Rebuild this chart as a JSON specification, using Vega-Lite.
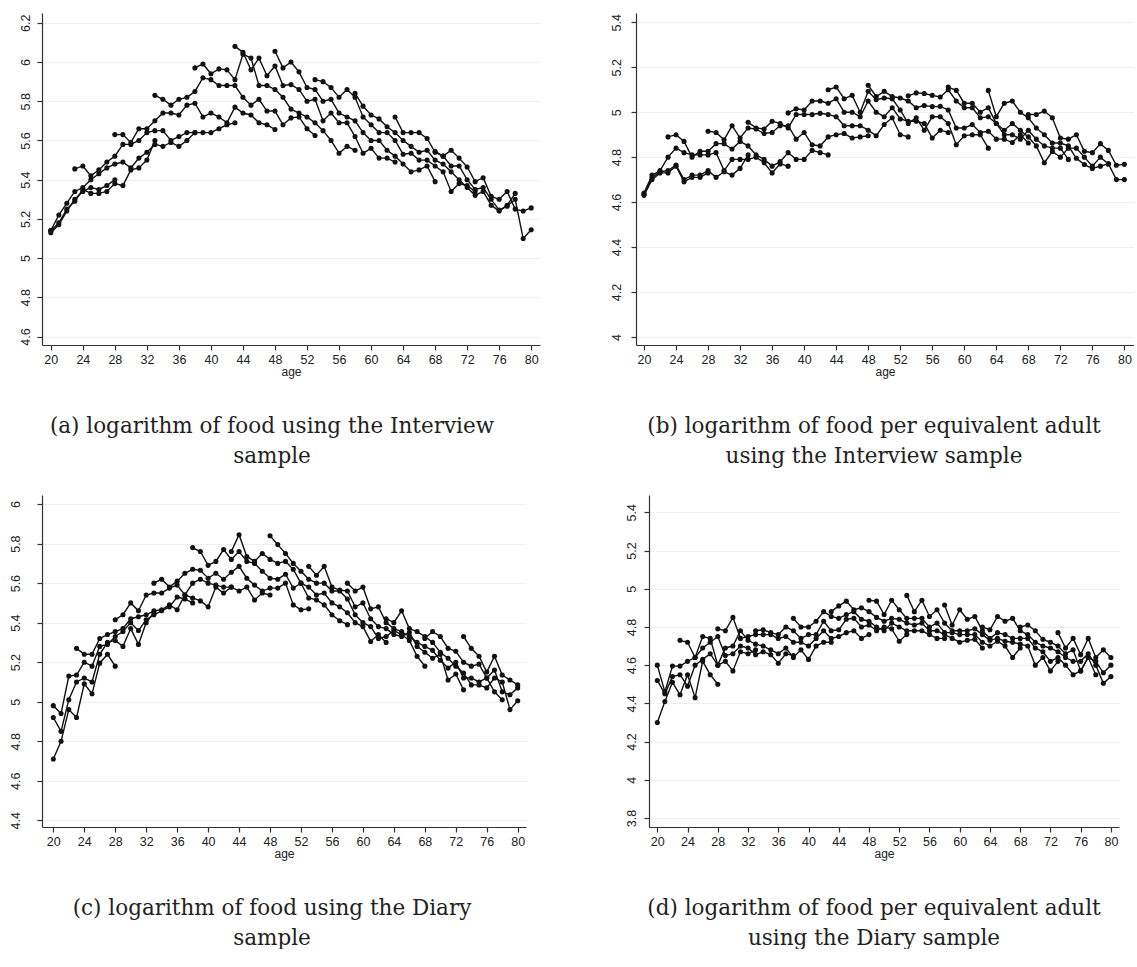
{
"$schema": "https://vega.github.io/schema/vega-lite/v6.json",
"background": "white",
"padding": {"left": 9, "top": 13, "right": 0, "bottom": 0},
"spacing": 28,
"config": {
 "view": {"stroke": null},
 "axis": {"domainColor": "#333", "tickColor": "#333", "labelColor": "#222", "labelFont": "Liberation Sans", "labelFontSize": 12.5, "titleFont": "Liberation Sans", "titleFontSize": 12, "titleFontWeight": "normal", "titleColor": "#222", "tickSize": 5, "domainWidth": 1.2, "tickWidth": 1.2, "gridColor": "#efefef", "labelOverlap": false, "labelFlush": false},
 "axisX": {"grid": false, "titlePadding": 1, "labelPadding": 3},
 "axisY": {"grid": true, "labelAngle": -90, "labelAlign": "center", "labelBaseline": "bottom", "title": null},
 "title": {"font": "DejaVu Serif", "fontSize": 21.5, "fontWeight": "normal", "color": "#222", "orient": "bottom", "anchor": "middle", "offset": 38, "lineHeight": 30}
},
"datasets": {
"a": [
{"c":1,"x":20,"y":5.13},{"c":1,"x":21,"y":5.17},{"c":1,"x":22,"y":5.24},{"c":1,"x":23,"y":5.30},{"c":1,"x":24,"y":5.34},{"c":1,"x":25,"y":5.36},{"c":1,"x":26,"y":5.35},{"c":1,"x":27,"y":5.37},{"c":1,"x":28,"y":5.40},
{"c":2,"x":20,"y":5.14},{"c":2,"x":21,"y":5.18},{"c":2,"x":22,"y":5.25},{"c":2,"x":23,"y":5.29},{"c":2,"x":24,"y":5.35},{"c":2,"x":25,"y":5.33},{"c":2,"x":26,"y":5.33},{"c":2,"x":27,"y":5.34},{"c":2,"x":28,"y":5.38},{"c":2,"x":29,"y":5.37},{"c":2,"x":30,"y":5.45},{"c":2,"x":31,"y":5.46},{"c":2,"x":32,"y":5.50},{"c":2,"x":33,"y":5.60},
{"c":3,"x":20,"y":5.14},{"c":3,"x":21,"y":5.22},{"c":3,"x":22,"y":5.28},{"c":3,"x":23,"y":5.34},{"c":3,"x":24,"y":5.36},{"c":3,"x":25,"y":5.40},{"c":3,"x":26,"y":5.43},{"c":3,"x":27,"y":5.46},{"c":3,"x":28,"y":5.48},{"c":3,"x":29,"y":5.49},{"c":3,"x":30,"y":5.46},{"c":3,"x":31,"y":5.51},{"c":3,"x":32,"y":5.54},{"c":3,"x":33,"y":5.58},{"c":3,"x":34,"y":5.57},{"c":3,"x":35,"y":5.59},{"c":3,"x":36,"y":5.57},{"c":3,"x":37,"y":5.60},{"c":3,"x":38,"y":5.64},
{"c":4,"x":23,"y":5.455},{"c":4,"x":24,"y":5.47},{"c":4,"x":25,"y":5.42},{"c":4,"x":26,"y":5.45},{"c":4,"x":27,"y":5.49},{"c":4,"x":28,"y":5.52},{"c":4,"x":29,"y":5.58},{"c":4,"x":30,"y":5.58},{"c":4,"x":31,"y":5.60},{"c":4,"x":32,"y":5.64},{"c":4,"x":33,"y":5.65},{"c":4,"x":34,"y":5.65},{"c":4,"x":35,"y":5.60},{"c":4,"x":36,"y":5.62},{"c":4,"x":37,"y":5.64},{"c":4,"x":38,"y":5.64},{"c":4,"x":39,"y":5.64},{"c":4,"x":40,"y":5.64},{"c":4,"x":41,"y":5.66},{"c":4,"x":42,"y":5.68},{"c":4,"x":43,"y":5.69},
{"c":5,"x":28,"y":5.63},{"c":5,"x":29,"y":5.63},{"c":5,"x":30,"y":5.59},{"c":5,"x":31,"y":5.66},{"c":5,"x":32,"y":5.66},{"c":5,"x":33,"y":5.70},{"c":5,"x":34,"y":5.74},{"c":5,"x":35,"y":5.74},{"c":5,"x":36,"y":5.73},{"c":5,"x":37,"y":5.78},{"c":5,"x":38,"y":5.79},{"c":5,"x":39,"y":5.72},{"c":5,"x":40,"y":5.74},{"c":5,"x":41,"y":5.72},{"c":5,"x":42,"y":5.69},{"c":5,"x":43,"y":5.77},{"c":5,"x":44,"y":5.74},{"c":5,"x":45,"y":5.73},{"c":5,"x":46,"y":5.69},{"c":5,"x":47,"y":5.68},{"c":5,"x":48,"y":5.656},
{"c":6,"x":33,"y":5.83},{"c":6,"x":34,"y":5.81},{"c":6,"x":35,"y":5.78},{"c":6,"x":36,"y":5.81},{"c":6,"x":37,"y":5.82},{"c":6,"x":38,"y":5.85},{"c":6,"x":39,"y":5.92},{"c":6,"x":40,"y":5.91},{"c":6,"x":41,"y":5.88},{"c":6,"x":42,"y":5.88},{"c":6,"x":43,"y":5.88},{"c":6,"x":44,"y":5.82},{"c":6,"x":45,"y":5.78},{"c":6,"x":46,"y":5.81},{"c":6,"x":47,"y":5.75},{"c":6,"x":48,"y":5.75},{"c":6,"x":49,"y":5.68},{"c":6,"x":50,"y":5.715},{"c":6,"x":51,"y":5.72},{"c":6,"x":52,"y":5.66},{"c":6,"x":53,"y":5.625},
{"c":7,"x":38,"y":5.97},{"c":7,"x":39,"y":5.99},{"c":7,"x":40,"y":5.94},{"c":7,"x":41,"y":5.965},{"c":7,"x":42,"y":5.96},{"c":7,"x":43,"y":5.91},{"c":7,"x":44,"y":6.04},{"c":7,"x":45,"y":6.02},{"c":7,"x":46,"y":5.88},{"c":7,"x":47,"y":5.88},{"c":7,"x":48,"y":5.86},{"c":7,"x":49,"y":5.82},{"c":7,"x":50,"y":5.76},{"c":7,"x":51,"y":5.74},{"c":7,"x":52,"y":5.72},{"c":7,"x":53,"y":5.69},{"c":7,"x":54,"y":5.65},{"c":7,"x":55,"y":5.60},{"c":7,"x":56,"y":5.535},{"c":7,"x":57,"y":5.57},{"c":7,"x":58,"y":5.55},
{"c":8,"x":43,"y":6.08},{"c":8,"x":44,"y":6.05},{"c":8,"x":45,"y":5.96},{"c":8,"x":46,"y":6.02},{"c":8,"x":47,"y":5.93},{"c":8,"x":48,"y":5.98},{"c":8,"x":49,"y":5.88},{"c":8,"x":50,"y":5.885},{"c":8,"x":51,"y":5.86},{"c":8,"x":52,"y":5.80},{"c":8,"x":53,"y":5.81},{"c":8,"x":54,"y":5.70},{"c":8,"x":55,"y":5.74},{"c":8,"x":56,"y":5.69},{"c":8,"x":57,"y":5.69},{"c":8,"x":58,"y":5.62},{"c":8,"x":59,"y":5.535},{"c":8,"x":60,"y":5.56},{"c":8,"x":61,"y":5.51},{"c":8,"x":62,"y":5.51},{"c":8,"x":63,"y":5.49},
{"c":9,"x":48,"y":6.055},{"c":9,"x":49,"y":5.97},{"c":9,"x":50,"y":6.00},{"c":9,"x":51,"y":5.95},{"c":9,"x":52,"y":5.87},{"c":9,"x":53,"y":5.86},{"c":9,"x":54,"y":5.80},{"c":9,"x":55,"y":5.81},{"c":9,"x":56,"y":5.74},{"c":9,"x":57,"y":5.72},{"c":9,"x":58,"y":5.70},{"c":9,"x":59,"y":5.64},{"c":9,"x":60,"y":5.60},{"c":9,"x":61,"y":5.60},{"c":9,"x":62,"y":5.55},{"c":9,"x":63,"y":5.52},{"c":9,"x":64,"y":5.48},{"c":9,"x":65,"y":5.44},{"c":9,"x":66,"y":5.45},{"c":9,"x":67,"y":5.47},{"c":9,"x":68,"y":5.39},
{"c":10,"x":53,"y":5.91},{"c":10,"x":54,"y":5.90},{"c":10,"x":55,"y":5.87},{"c":10,"x":56,"y":5.82},{"c":10,"x":57,"y":5.86},{"c":10,"x":58,"y":5.82},{"c":10,"x":59,"y":5.72},{"c":10,"x":60,"y":5.68},{"c":10,"x":61,"y":5.64},{"c":10,"x":62,"y":5.64},{"c":10,"x":63,"y":5.60},{"c":10,"x":64,"y":5.53},{"c":10,"x":65,"y":5.535},{"c":10,"x":66,"y":5.50},{"c":10,"x":67,"y":5.50},{"c":10,"x":68,"y":5.47},{"c":10,"x":69,"y":5.44},{"c":10,"x":70,"y":5.34},{"c":10,"x":71,"y":5.38},{"c":10,"x":72,"y":5.37},{"c":10,"x":73,"y":5.34},
{"c":11,"x":58,"y":5.84},{"c":11,"x":59,"y":5.775},{"c":11,"x":60,"y":5.73},{"c":11,"x":61,"y":5.71},{"c":11,"x":62,"y":5.67},{"c":11,"x":63,"y":5.64},{"c":11,"x":64,"y":5.60},{"c":11,"x":65,"y":5.57},{"c":11,"x":66,"y":5.54},{"c":11,"x":67,"y":5.55},{"c":11,"x":68,"y":5.50},{"c":11,"x":69,"y":5.48},{"c":11,"x":70,"y":5.44},{"c":11,"x":71,"y":5.40},{"c":11,"x":72,"y":5.36},{"c":11,"x":73,"y":5.32},{"c":11,"x":74,"y":5.34},{"c":11,"x":75,"y":5.27},{"c":11,"x":76,"y":5.24},{"c":11,"x":77,"y":5.27},{"c":11,"x":78,"y":5.33},
{"c":12,"x":63,"y":5.72},{"c":12,"x":64,"y":5.64},{"c":12,"x":65,"y":5.64},{"c":12,"x":66,"y":5.64},{"c":12,"x":67,"y":5.61},{"c":12,"x":68,"y":5.54},{"c":12,"x":69,"y":5.52},{"c":12,"x":70,"y":5.47},{"c":12,"x":71,"y":5.47},{"c":12,"x":72,"y":5.40},{"c":12,"x":73,"y":5.35},{"c":12,"x":74,"y":5.36},{"c":12,"x":75,"y":5.30},{"c":12,"x":76,"y":5.245},{"c":12,"x":77,"y":5.265},{"c":12,"x":78,"y":5.30},{"c":12,"x":79,"y":5.10},{"c":12,"x":80,"y":5.145},
{"c":13,"x":68,"y":5.545},{"c":13,"x":69,"y":5.52},{"c":13,"x":70,"y":5.55},{"c":13,"x":71,"y":5.51},{"c":13,"x":72,"y":5.465},{"c":13,"x":73,"y":5.39},{"c":13,"x":74,"y":5.41},{"c":13,"x":75,"y":5.315},{"c":13,"x":76,"y":5.30},{"c":13,"x":77,"y":5.34},{"c":13,"x":78,"y":5.25},{"c":13,"x":79,"y":5.24},{"c":13,"x":80,"y":5.256}
],
"b": [
{"c":1,"x":20,"y":4.63},{"c":1,"x":21,"y":4.70},{"c":1,"x":22,"y":4.73},{"c":1,"x":23,"y":4.73},{"c":1,"x":24,"y":4.76},{"c":1,"x":25,"y":4.69},{"c":1,"x":26,"y":4.71},{"c":1,"x":27,"y":4.71},{"c":1,"x":28,"y":4.73},
{"c":2,"x":20,"y":4.635},{"c":2,"x":21,"y":4.71},{"c":2,"x":22,"y":4.735},{"c":2,"x":23,"y":4.74},{"c":2,"x":24,"y":4.765},{"c":2,"x":25,"y":4.70},{"c":2,"x":26,"y":4.72},{"c":2,"x":27,"y":4.72},{"c":2,"x":28,"y":4.74},{"c":2,"x":29,"y":4.71},{"c":2,"x":30,"y":4.735},{"c":2,"x":31,"y":4.72},{"c":2,"x":32,"y":4.75},{"c":2,"x":33,"y":4.81},
{"c":3,"x":20,"y":4.64},{"c":3,"x":21,"y":4.72},{"c":3,"x":22,"y":4.74},{"c":3,"x":23,"y":4.80},{"c":3,"x":24,"y":4.84},{"c":3,"x":25,"y":4.82},{"c":3,"x":26,"y":4.81},{"c":3,"x":27,"y":4.81},{"c":3,"x":28,"y":4.81},{"c":3,"x":29,"y":4.82},{"c":3,"x":30,"y":4.74},{"c":3,"x":31,"y":4.79},{"c":3,"x":32,"y":4.79},{"c":3,"x":33,"y":4.79},{"c":3,"x":34,"y":4.80},{"c":3,"x":35,"y":4.775},{"c":3,"x":36,"y":4.73},{"c":3,"x":37,"y":4.77},{"c":3,"x":38,"y":4.76},
{"c":4,"x":23,"y":4.89},{"c":4,"x":24,"y":4.90},{"c":4,"x":25,"y":4.87},{"c":4,"x":26,"y":4.80},{"c":4,"x":27,"y":4.826},{"c":4,"x":28,"y":4.826},{"c":4,"x":29,"y":4.86},{"c":4,"x":30,"y":4.86},{"c":4,"x":31,"y":4.836},{"c":4,"x":32,"y":4.87},{"c":4,"x":33,"y":4.85},{"c":4,"x":34,"y":4.81},{"c":4,"x":35,"y":4.79},{"c":4,"x":36,"y":4.76},{"c":4,"x":37,"y":4.78},{"c":4,"x":38,"y":4.82},{"c":4,"x":39,"y":4.79},{"c":4,"x":40,"y":4.79},{"c":4,"x":41,"y":4.83},{"c":4,"x":42,"y":4.82},{"c":4,"x":43,"y":4.81},
{"c":5,"x":28,"y":4.915},{"c":5,"x":29,"y":4.91},{"c":5,"x":30,"y":4.877},{"c":5,"x":31,"y":4.94},{"c":5,"x":32,"y":4.885},{"c":5,"x":33,"y":4.93},{"c":5,"x":34,"y":4.925},{"c":5,"x":35,"y":4.905},{"c":5,"x":36,"y":4.91},{"c":5,"x":37,"y":4.94},{"c":5,"x":38,"y":4.94},{"c":5,"x":39,"y":4.88},{"c":5,"x":40,"y":4.91},{"c":5,"x":41,"y":4.855},{"c":5,"x":42,"y":4.85},{"c":5,"x":43,"y":4.89},{"c":5,"x":44,"y":4.90},{"c":5,"x":45,"y":4.905},{"c":5,"x":46,"y":4.885},{"c":5,"x":47,"y":4.89},{"c":5,"x":48,"y":4.895},
{"c":6,"x":33,"y":4.955},{"c":6,"x":34,"y":4.93},{"c":6,"x":35,"y":4.925},{"c":6,"x":36,"y":4.96},{"c":6,"x":37,"y":4.95},{"c":6,"x":38,"y":4.93},{"c":6,"x":39,"y":4.99},{"c":6,"x":40,"y":4.99},{"c":6,"x":41,"y":4.99},{"c":6,"x":42,"y":4.995},{"c":6,"x":43,"y":4.99},{"c":6,"x":44,"y":4.98},{"c":6,"x":45,"y":4.94},{"c":6,"x":46,"y":4.94},{"c":6,"x":47,"y":4.94},{"c":6,"x":48,"y":4.92},{"c":6,"x":49,"y":4.895},{"c":6,"x":50,"y":4.945},{"c":6,"x":51,"y":4.975},{"c":6,"x":52,"y":4.90},{"c":6,"x":53,"y":4.89},
{"c":7,"x":38,"y":4.997},{"c":7,"x":39,"y":5.015},{"c":7,"x":40,"y":5.01},{"c":7,"x":41,"y":5.05},{"c":7,"x":42,"y":5.05},{"c":7,"x":43,"y":5.04},{"c":7,"x":44,"y":5.06},{"c":7,"x":45,"y":5.00},{"c":7,"x":46,"y":5.00},{"c":7,"x":47,"y":4.98},{"c":7,"x":48,"y":5.05},{"c":7,"x":49,"y":5.00},{"c":7,"x":50,"y":4.98},{"c":7,"x":51,"y":5.02},{"c":7,"x":52,"y":4.97},{"c":7,"x":53,"y":4.96},{"c":7,"x":54,"y":4.96},{"c":7,"x":55,"y":4.95},{"c":7,"x":56,"y":4.885},{"c":7,"x":57,"y":4.92},{"c":7,"x":58,"y":4.91},
{"c":8,"x":43,"y":5.10},{"c":8,"x":44,"y":5.112},{"c":8,"x":45,"y":5.06},{"c":8,"x":46,"y":5.075},{"c":8,"x":47,"y":5.00},{"c":8,"x":48,"y":5.093},{"c":8,"x":49,"y":5.056},{"c":8,"x":50,"y":5.063},{"c":8,"x":51,"y":5.06},{"c":8,"x":52,"y":5.01},{"c":8,"x":53,"y":4.95},{"c":8,"x":54,"y":4.975},{"c":8,"x":55,"y":4.92},{"c":8,"x":56,"y":4.98},{"c":8,"x":57,"y":4.98},{"c":8,"x":58,"y":4.95},{"c":8,"x":59,"y":4.855},{"c":8,"x":60,"y":4.895},{"c":8,"x":61,"y":4.90},{"c":8,"x":62,"y":4.90},{"c":8,"x":63,"y":4.84},
{"c":9,"x":48,"y":5.12},{"c":9,"x":49,"y":5.07},{"c":9,"x":50,"y":5.093},{"c":9,"x":51,"y":5.07},{"c":9,"x":52,"y":5.063},{"c":9,"x":53,"y":5.05},{"c":9,"x":54,"y":5.02},{"c":9,"x":55,"y":5.03},{"c":9,"x":56,"y":5.025},{"c":9,"x":57,"y":5.026},{"c":9,"x":58,"y":5.01},{"c":9,"x":59,"y":4.93},{"c":9,"x":60,"y":4.93},{"c":9,"x":61,"y":4.945},{"c":9,"x":62,"y":4.91},{"c":9,"x":63,"y":4.915},{"c":9,"x":64,"y":4.88},{"c":9,"x":65,"y":4.88},{"c":9,"x":66,"y":4.865},{"c":9,"x":67,"y":4.90},{"c":9,"x":68,"y":4.863},
{"c":10,"x":53,"y":5.073},{"c":10,"x":54,"y":5.086},{"c":10,"x":55,"y":5.083},{"c":10,"x":56,"y":5.075},{"c":10,"x":57,"y":5.068},{"c":10,"x":58,"y":5.10},{"c":10,"x":59,"y":5.05},{"c":10,"x":60,"y":5.02},{"c":10,"x":61,"y":5.02},{"c":10,"x":62,"y":4.975},{"c":10,"x":63,"y":4.98},{"c":10,"x":64,"y":4.95},{"c":10,"x":65,"y":4.90},{"c":10,"x":66,"y":4.90},{"c":10,"x":67,"y":4.88},{"c":10,"x":68,"y":4.92},{"c":10,"x":69,"y":4.88},{"c":10,"x":70,"y":4.85},{"c":10,"x":71,"y":4.84},{"c":10,"x":72,"y":4.84},{"c":10,"x":73,"y":4.79},
{"c":11,"x":58,"y":5.112},{"c":11,"x":59,"y":5.097},{"c":11,"x":60,"y":5.04},{"c":11,"x":61,"y":5.04},{"c":11,"x":62,"y":5.00},{"c":11,"x":63,"y":5.02},{"c":11,"x":64,"y":4.95},{"c":11,"x":65,"y":4.92},{"c":11,"x":66,"y":4.95},{"c":11,"x":67,"y":4.92},{"c":11,"x":68,"y":4.89},{"c":11,"x":69,"y":4.85},{"c":11,"x":70,"y":4.775},{"c":11,"x":71,"y":4.825},{"c":11,"x":72,"y":4.80},{"c":11,"x":73,"y":4.84},{"c":11,"x":74,"y":4.84},{"c":11,"x":75,"y":4.80},{"c":11,"x":76,"y":4.76},{"c":11,"x":77,"y":4.80},{"c":11,"x":78,"y":4.77},
{"c":12,"x":63,"y":5.097},{"c":12,"x":64,"y":4.98},{"c":12,"x":65,"y":5.04},{"c":12,"x":66,"y":5.05},{"c":12,"x":67,"y":5.00},{"c":12,"x":68,"y":4.975},{"c":12,"x":69,"y":4.93},{"c":12,"x":70,"y":4.90},{"c":12,"x":71,"y":4.863},{"c":12,"x":72,"y":4.863},{"c":12,"x":73,"y":4.85},{"c":12,"x":74,"y":4.795},{"c":12,"x":75,"y":4.767},{"c":12,"x":76,"y":4.75},{"c":12,"x":77,"y":4.76},{"c":12,"x":78,"y":4.77},{"c":12,"x":79,"y":4.70},{"c":12,"x":80,"y":4.70},
{"c":13,"x":68,"y":4.99},{"c":13,"x":69,"y":4.99},{"c":13,"x":70,"y":5.005},{"c":13,"x":71,"y":4.975},{"c":13,"x":72,"y":4.885},{"c":13,"x":73,"y":4.88},{"c":13,"x":74,"y":4.90},{"c":13,"x":75,"y":4.826},{"c":13,"x":76,"y":4.82},{"c":13,"x":77,"y":4.86},{"c":13,"x":78,"y":4.83},{"c":13,"x":79,"y":4.764},{"c":13,"x":80,"y":4.768}
],
"c": [
{"c":1,"x":20,"y":4.71},{"c":1,"x":21,"y":4.80},{"c":1,"x":22,"y":4.96},{"c":1,"x":23,"y":4.92},{"c":1,"x":24,"y":5.09},{"c":1,"x":25,"y":5.04},{"c":1,"x":26,"y":5.195},{"c":1,"x":27,"y":5.24},{"c":1,"x":28,"y":5.18},
{"c":2,"x":20,"y":4.92},{"c":2,"x":21,"y":4.85},{"c":2,"x":22,"y":5.01},{"c":2,"x":23,"y":5.10},{"c":2,"x":24,"y":5.12},{"c":2,"x":25,"y":5.10},{"c":2,"x":26,"y":5.24},{"c":2,"x":27,"y":5.30},{"c":2,"x":28,"y":5.31},{"c":2,"x":29,"y":5.28},{"c":2,"x":30,"y":5.37},{"c":2,"x":31,"y":5.29},{"c":2,"x":32,"y":5.40},{"c":2,"x":33,"y":5.45},
{"c":3,"x":20,"y":4.98},{"c":3,"x":21,"y":4.94},{"c":3,"x":22,"y":5.13},{"c":3,"x":23,"y":5.135},{"c":3,"x":24,"y":5.20},{"c":3,"x":25,"y":5.18},{"c":3,"x":26,"y":5.28},{"c":3,"x":27,"y":5.29},{"c":3,"x":28,"y":5.33},{"c":3,"x":29,"y":5.355},{"c":3,"x":30,"y":5.40},{"c":3,"x":31,"y":5.36},{"c":3,"x":32,"y":5.415},{"c":3,"x":33,"y":5.44},{"c":3,"x":34,"y":5.46},{"c":3,"x":35,"y":5.48},{"c":3,"x":36,"y":5.53},{"c":3,"x":37,"y":5.52},{"c":3,"x":38,"y":5.50},
{"c":4,"x":23,"y":5.27},{"c":4,"x":24,"y":5.24},{"c":4,"x":25,"y":5.24},{"c":4,"x":26,"y":5.32},{"c":4,"x":27,"y":5.34},{"c":4,"x":28,"y":5.355},{"c":4,"x":29,"y":5.37},{"c":4,"x":30,"y":5.42},{"c":4,"x":31,"y":5.43},{"c":4,"x":32,"y":5.44},{"c":4,"x":33,"y":5.46},{"c":4,"x":34,"y":5.465},{"c":4,"x":35,"y":5.49},{"c":4,"x":36,"y":5.465},{"c":4,"x":37,"y":5.54},{"c":4,"x":38,"y":5.525},{"c":4,"x":39,"y":5.51},{"c":4,"x":40,"y":5.48},{"c":4,"x":41,"y":5.58},{"c":4,"x":42,"y":5.55},{"c":4,"x":43,"y":5.58},
{"c":5,"x":28,"y":5.415},{"c":5,"x":29,"y":5.44},{"c":5,"x":30,"y":5.50},{"c":5,"x":31,"y":5.46},{"c":5,"x":32,"y":5.54},{"c":5,"x":33,"y":5.55},{"c":5,"x":34,"y":5.55},{"c":5,"x":35,"y":5.575},{"c":5,"x":36,"y":5.59},{"c":5,"x":37,"y":5.54},{"c":5,"x":38,"y":5.60},{"c":5,"x":39,"y":5.62},{"c":5,"x":40,"y":5.60},{"c":5,"x":41,"y":5.59},{"c":5,"x":42,"y":5.58},{"c":5,"x":43,"y":5.58},{"c":5,"x":44,"y":5.56},{"c":5,"x":45,"y":5.58},{"c":5,"x":46,"y":5.515},{"c":5,"x":47,"y":5.55},{"c":5,"x":48,"y":5.54},
{"c":6,"x":33,"y":5.60},{"c":6,"x":34,"y":5.62},{"c":6,"x":35,"y":5.58},{"c":6,"x":36,"y":5.61},{"c":6,"x":37,"y":5.65},{"c":6,"x":38,"y":5.67},{"c":6,"x":39,"y":5.665},{"c":6,"x":40,"y":5.625},{"c":6,"x":41,"y":5.65},{"c":6,"x":42,"y":5.62},{"c":6,"x":43,"y":5.655},{"c":6,"x":44,"y":5.685},{"c":6,"x":45,"y":5.625},{"c":6,"x":46,"y":5.59},{"c":6,"x":47,"y":5.56},{"c":6,"x":48,"y":5.575},{"c":6,"x":49,"y":5.575},{"c":6,"x":50,"y":5.60},{"c":6,"x":51,"y":5.49},{"c":6,"x":52,"y":5.465},{"c":6,"x":53,"y":5.47},
{"c":7,"x":38,"y":5.78},{"c":7,"x":39,"y":5.76},{"c":7,"x":40,"y":5.69},{"c":7,"x":41,"y":5.71},{"c":7,"x":42,"y":5.77},{"c":7,"x":43,"y":5.72},{"c":7,"x":44,"y":5.76},{"c":7,"x":45,"y":5.71},{"c":7,"x":46,"y":5.70},{"c":7,"x":47,"y":5.66},{"c":7,"x":48,"y":5.625},{"c":7,"x":49,"y":5.62},{"c":7,"x":50,"y":5.645},{"c":7,"x":51,"y":5.575},{"c":7,"x":52,"y":5.60},{"c":7,"x":53,"y":5.525},{"c":7,"x":54,"y":5.515},{"c":7,"x":55,"y":5.49},{"c":7,"x":56,"y":5.44},{"c":7,"x":57,"y":5.41},{"c":7,"x":58,"y":5.39},
{"c":8,"x":43,"y":5.76},{"c":8,"x":44,"y":5.845},{"c":8,"x":45,"y":5.735},{"c":8,"x":46,"y":5.71},{"c":8,"x":47,"y":5.75},{"c":8,"x":48,"y":5.72},{"c":8,"x":49,"y":5.70},{"c":8,"x":50,"y":5.71},{"c":8,"x":51,"y":5.67},{"c":8,"x":52,"y":5.60},{"c":8,"x":53,"y":5.58},{"c":8,"x":54,"y":5.54},{"c":8,"x":55,"y":5.55},{"c":8,"x":56,"y":5.50},{"c":8,"x":57,"y":5.48},{"c":8,"x":58,"y":5.45},{"c":8,"x":59,"y":5.40},{"c":8,"x":60,"y":5.38},{"c":8,"x":61,"y":5.305},{"c":8,"x":62,"y":5.34},{"c":8,"x":63,"y":5.30},
{"c":9,"x":48,"y":5.84},{"c":9,"x":49,"y":5.795},{"c":9,"x":50,"y":5.75},{"c":9,"x":51,"y":5.70},{"c":9,"x":52,"y":5.66},{"c":9,"x":53,"y":5.62},{"c":9,"x":54,"y":5.60},{"c":9,"x":55,"y":5.60},{"c":9,"x":56,"y":5.56},{"c":9,"x":57,"y":5.56},{"c":9,"x":58,"y":5.52},{"c":9,"x":59,"y":5.44},{"c":9,"x":60,"y":5.40},{"c":9,"x":61,"y":5.38},{"c":9,"x":62,"y":5.32},{"c":9,"x":63,"y":5.33},{"c":9,"x":64,"y":5.36},{"c":9,"x":65,"y":5.34},{"c":9,"x":66,"y":5.31},{"c":9,"x":67,"y":5.23},{"c":9,"x":68,"y":5.18},
{"c":10,"x":53,"y":5.685},{"c":10,"x":54,"y":5.64},{"c":10,"x":55,"y":5.685},{"c":10,"x":56,"y":5.58},{"c":10,"x":57,"y":5.565},{"c":10,"x":58,"y":5.56},{"c":10,"x":59,"y":5.48},{"c":10,"x":60,"y":5.50},{"c":10,"x":61,"y":5.42},{"c":10,"x":62,"y":5.38},{"c":10,"x":63,"y":5.37},{"c":10,"x":64,"y":5.34},{"c":10,"x":65,"y":5.33},{"c":10,"x":66,"y":5.35},{"c":10,"x":67,"y":5.28},{"c":10,"x":68,"y":5.25},{"c":10,"x":69,"y":5.22},{"c":10,"x":70,"y":5.24},{"c":10,"x":71,"y":5.11},{"c":10,"x":72,"y":5.14},{"c":10,"x":73,"y":5.06},
{"c":11,"x":58,"y":5.60},{"c":11,"x":59,"y":5.56},{"c":11,"x":60,"y":5.58},{"c":11,"x":61,"y":5.47},{"c":11,"x":62,"y":5.48},{"c":11,"x":63,"y":5.40},{"c":11,"x":64,"y":5.37},{"c":11,"x":65,"y":5.355},{"c":11,"x":66,"y":5.33},{"c":11,"x":67,"y":5.30},{"c":11,"x":68,"y":5.28},{"c":11,"x":69,"y":5.26},{"c":11,"x":70,"y":5.21},{"c":11,"x":71,"y":5.17},{"c":11,"x":72,"y":5.20},{"c":11,"x":73,"y":5.12},{"c":11,"x":74,"y":5.12},{"c":11,"x":75,"y":5.10},{"c":11,"x":76,"y":5.12},{"c":11,"x":77,"y":5.05},{"c":11,"x":78,"y":5.01},
{"c":12,"x":63,"y":5.42},{"c":12,"x":64,"y":5.40},{"c":12,"x":65,"y":5.46},{"c":12,"x":66,"y":5.37},{"c":12,"x":67,"y":5.355},{"c":12,"x":68,"y":5.33},{"c":12,"x":69,"y":5.30},{"c":12,"x":70,"y":5.25},{"c":12,"x":71,"y":5.22},{"c":12,"x":72,"y":5.18},{"c":12,"x":73,"y":5.145},{"c":12,"x":74,"y":5.085},{"c":12,"x":75,"y":5.085},{"c":12,"x":76,"y":5.07},{"c":12,"x":77,"y":5.12},{"c":12,"x":78,"y":5.10},{"c":12,"x":79,"y":4.96},{"c":12,"x":80,"y":5.005},
{"c":13,"x":68,"y":5.32},{"c":13,"x":69,"y":5.355},{"c":13,"x":70,"y":5.33},{"c":13,"x":71,"y":5.27},{"c":13,"x":72,"y":5.255},{"c":13,"x":73,"y":5.20},{"c":13,"x":74,"y":5.18},{"c":13,"x":75,"y":5.19},{"c":13,"x":76,"y":5.12},{"c":13,"x":77,"y":5.16},{"c":13,"x":78,"y":5.05},{"c":13,"x":79,"y":5.035},{"c":13,"x":80,"y":5.07},
{"c":14,"x":73,"y":5.33},{"c":14,"x":74,"y":5.27},{"c":14,"x":75,"y":5.23},{"c":14,"x":76,"y":5.15},{"c":14,"x":77,"y":5.23},{"c":14,"x":78,"y":5.135},{"c":14,"x":79,"y":5.11},{"c":14,"x":80,"y":5.085}
],
"d": [
{"c":1,"x":20,"y":4.30},{"c":1,"x":21,"y":4.41},{"c":1,"x":22,"y":4.51},{"c":1,"x":23,"y":4.445},{"c":1,"x":24,"y":4.55},{"c":1,"x":25,"y":4.43},{"c":1,"x":26,"y":4.62},{"c":1,"x":27,"y":4.55},{"c":1,"x":28,"y":4.50},
{"c":2,"x":20,"y":4.52},{"c":2,"x":21,"y":4.45},{"c":2,"x":22,"y":4.54},{"c":2,"x":23,"y":4.55},{"c":2,"x":24,"y":4.49},{"c":2,"x":25,"y":4.60},{"c":2,"x":26,"y":4.63},{"c":2,"x":27,"y":4.66},{"c":2,"x":28,"y":4.60},{"c":2,"x":29,"y":4.62},{"c":2,"x":30,"y":4.57},{"c":2,"x":31,"y":4.67},{"c":2,"x":32,"y":4.66},{"c":2,"x":33,"y":4.68},
{"c":3,"x":20,"y":4.60},{"c":3,"x":21,"y":4.46},{"c":3,"x":22,"y":4.595},{"c":3,"x":23,"y":4.595},{"c":3,"x":24,"y":4.62},{"c":3,"x":25,"y":4.64},{"c":3,"x":26,"y":4.69},{"c":3,"x":27,"y":4.72},{"c":3,"x":28,"y":4.75},{"c":3,"x":29,"y":4.65},{"c":3,"x":30,"y":4.66},{"c":3,"x":31,"y":4.70},{"c":3,"x":32,"y":4.69},{"c":3,"x":33,"y":4.655},{"c":3,"x":34,"y":4.67},{"c":3,"x":35,"y":4.655},{"c":3,"x":36,"y":4.61},{"c":3,"x":37,"y":4.66},{"c":3,"x":38,"y":4.65},
{"c":4,"x":23,"y":4.73},{"c":4,"x":24,"y":4.72},{"c":4,"x":25,"y":4.64},{"c":4,"x":26,"y":4.75},{"c":4,"x":27,"y":4.74},{"c":4,"x":28,"y":4.60},{"c":4,"x":29,"y":4.69},{"c":4,"x":30,"y":4.70},{"c":4,"x":31,"y":4.78},{"c":4,"x":32,"y":4.73},{"c":4,"x":33,"y":4.71},{"c":4,"x":34,"y":4.70},{"c":4,"x":35,"y":4.68},{"c":4,"x":36,"y":4.66},{"c":4,"x":37,"y":4.69},{"c":4,"x":38,"y":4.64},{"c":4,"x":39,"y":4.68},{"c":4,"x":40,"y":4.63},{"c":4,"x":41,"y":4.70},{"c":4,"x":42,"y":4.72},{"c":4,"x":43,"y":4.72},
{"c":5,"x":28,"y":4.79},{"c":5,"x":29,"y":4.78},{"c":5,"x":30,"y":4.85},{"c":5,"x":31,"y":4.74},{"c":5,"x":32,"y":4.75},{"c":5,"x":33,"y":4.76},{"c":5,"x":34,"y":4.76},{"c":5,"x":35,"y":4.76},{"c":5,"x":36,"y":4.74},{"c":5,"x":37,"y":4.75},{"c":5,"x":38,"y":4.72},{"c":5,"x":39,"y":4.72},{"c":5,"x":40,"y":4.70},{"c":5,"x":41,"y":4.74},{"c":5,"x":42,"y":4.78},{"c":5,"x":43,"y":4.74},{"c":5,"x":44,"y":4.75},{"c":5,"x":45,"y":4.77},{"c":5,"x":46,"y":4.78},{"c":5,"x":47,"y":4.74},{"c":5,"x":48,"y":4.76},
{"c":6,"x":33,"y":4.78},{"c":6,"x":34,"y":4.785},{"c":6,"x":35,"y":4.77},{"c":6,"x":36,"y":4.76},{"c":6,"x":37,"y":4.80},{"c":6,"x":38,"y":4.78},{"c":6,"x":39,"y":4.74},{"c":6,"x":40,"y":4.76},{"c":6,"x":41,"y":4.76},{"c":6,"x":42,"y":4.83},{"c":6,"x":43,"y":4.78},{"c":6,"x":44,"y":4.785},{"c":6,"x":45,"y":4.84},{"c":6,"x":46,"y":4.845},{"c":6,"x":47,"y":4.80},{"c":6,"x":48,"y":4.81},{"c":6,"x":49,"y":4.78},{"c":6,"x":50,"y":4.80},{"c":6,"x":51,"y":4.79},{"c":6,"x":52,"y":4.725},{"c":6,"x":53,"y":4.76},
{"c":7,"x":38,"y":4.845},{"c":7,"x":39,"y":4.80},{"c":7,"x":40,"y":4.80},{"c":7,"x":41,"y":4.83},{"c":7,"x":42,"y":4.88},{"c":7,"x":43,"y":4.855},{"c":7,"x":44,"y":4.845},{"c":7,"x":45,"y":4.865},{"c":7,"x":46,"y":4.88},{"c":7,"x":47,"y":4.84},{"c":7,"x":48,"y":4.83},{"c":7,"x":49,"y":4.80},{"c":7,"x":50,"y":4.78},{"c":7,"x":51,"y":4.82},{"c":7,"x":52,"y":4.80},{"c":7,"x":53,"y":4.78},{"c":7,"x":54,"y":4.78},{"c":7,"x":55,"y":4.78},{"c":7,"x":56,"y":4.76},{"c":7,"x":57,"y":4.74},{"c":7,"x":58,"y":4.74},
{"c":8,"x":43,"y":4.88},{"c":8,"x":44,"y":4.91},{"c":8,"x":45,"y":4.935},{"c":8,"x":46,"y":4.89},{"c":8,"x":47,"y":4.90},{"c":8,"x":48,"y":4.88},{"c":8,"x":49,"y":4.85},{"c":8,"x":50,"y":4.83},{"c":8,"x":51,"y":4.845},{"c":8,"x":52,"y":4.84},{"c":8,"x":53,"y":4.82},{"c":8,"x":54,"y":4.81},{"c":8,"x":55,"y":4.82},{"c":8,"x":56,"y":4.78},{"c":8,"x":57,"y":4.78},{"c":8,"x":58,"y":4.76},{"c":8,"x":59,"y":4.74},{"c":8,"x":60,"y":4.72},{"c":8,"x":61,"y":4.73},{"c":8,"x":62,"y":4.735},{"c":8,"x":63,"y":4.69},
{"c":9,"x":48,"y":4.94},{"c":9,"x":49,"y":4.935},{"c":9,"x":50,"y":4.865},{"c":9,"x":51,"y":4.94},{"c":9,"x":52,"y":4.89},{"c":9,"x":53,"y":4.845},{"c":9,"x":54,"y":4.845},{"c":9,"x":55,"y":4.845},{"c":9,"x":56,"y":4.80},{"c":9,"x":57,"y":4.82},{"c":9,"x":58,"y":4.77},{"c":9,"x":59,"y":4.77},{"c":9,"x":60,"y":4.76},{"c":9,"x":61,"y":4.76},{"c":9,"x":62,"y":4.76},{"c":9,"x":63,"y":4.72},{"c":9,"x":64,"y":4.70},{"c":9,"x":65,"y":4.725},{"c":9,"x":66,"y":4.70},{"c":9,"x":67,"y":4.64},{"c":9,"x":68,"y":4.69},
{"c":10,"x":53,"y":4.965},{"c":10,"x":54,"y":4.88},{"c":10,"x":55,"y":4.94},{"c":10,"x":56,"y":4.855},{"c":10,"x":57,"y":4.89},{"c":10,"x":58,"y":4.82},{"c":10,"x":59,"y":4.78},{"c":10,"x":60,"y":4.78},{"c":10,"x":61,"y":4.78},{"c":10,"x":62,"y":4.79},{"c":10,"x":63,"y":4.76},{"c":10,"x":64,"y":4.73},{"c":10,"x":65,"y":4.74},{"c":10,"x":66,"y":4.725},{"c":10,"x":67,"y":4.72},{"c":10,"x":68,"y":4.71},{"c":10,"x":69,"y":4.70},{"c":10,"x":70,"y":4.60},{"c":10,"x":71,"y":4.64},{"c":10,"x":72,"y":4.57},{"c":10,"x":73,"y":4.62},
{"c":11,"x":58,"y":4.915},{"c":11,"x":59,"y":4.81},{"c":11,"x":60,"y":4.89},{"c":11,"x":61,"y":4.84},{"c":11,"x":62,"y":4.855},{"c":11,"x":63,"y":4.78},{"c":11,"x":64,"y":4.74},{"c":11,"x":65,"y":4.77},{"c":11,"x":66,"y":4.76},{"c":11,"x":67,"y":4.74},{"c":11,"x":68,"y":4.74},{"c":11,"x":69,"y":4.74},{"c":11,"x":70,"y":4.69},{"c":11,"x":71,"y":4.67},{"c":11,"x":72,"y":4.62},{"c":11,"x":73,"y":4.64},{"c":11,"x":74,"y":4.60},{"c":11,"x":75,"y":4.55},{"c":11,"x":76,"y":4.57},{"c":11,"x":77,"y":4.64},{"c":11,"x":78,"y":4.55},
{"c":12,"x":63,"y":4.80},{"c":12,"x":64,"y":4.785},{"c":12,"x":65,"y":4.855},{"c":12,"x":66,"y":4.83},{"c":12,"x":67,"y":4.845},{"c":12,"x":68,"y":4.78},{"c":12,"x":69,"y":4.76},{"c":12,"x":70,"y":4.72},{"c":12,"x":71,"y":4.70},{"c":12,"x":72,"y":4.69},{"c":12,"x":73,"y":4.67},{"c":12,"x":74,"y":4.64},{"c":12,"x":75,"y":4.62},{"c":12,"x":76,"y":4.62},{"c":12,"x":77,"y":4.66},{"c":12,"x":78,"y":4.60},{"c":12,"x":79,"y":4.505},{"c":12,"x":80,"y":4.54},
{"c":13,"x":68,"y":4.80},{"c":13,"x":69,"y":4.81},{"c":13,"x":70,"y":4.78},{"c":13,"x":71,"y":4.735},{"c":13,"x":72,"y":4.72},{"c":13,"x":73,"y":4.70},{"c":13,"x":74,"y":4.66},{"c":13,"x":75,"y":4.68},{"c":13,"x":76,"y":4.57},{"c":13,"x":77,"y":4.64},{"c":13,"x":78,"y":4.62},{"c":13,"x":79,"y":4.56},{"c":13,"x":80,"y":4.60},
{"c":14,"x":73,"y":4.77},{"c":14,"x":74,"y":4.69},{"c":14,"x":75,"y":4.74},{"c":14,"x":76,"y":4.655},{"c":14,"x":77,"y":4.74},{"c":14,"x":78,"y":4.64},{"c":14,"x":79,"y":4.68},{"c":14,"x":80,"y":4.64}
]
},
"vconcat": [
{"hconcat": [
 {"width": 498, "height": 332, "data": {"name": "a"},
  "title": {"text": ["(a) logarithm of food using the Interview", "sample"], "dx": -19},
  "encoding": {
   "x": {"field": "x", "type": "quantitative", "scale": {"domain": [18.9, 81.1], "nice": false, "zero": false}, "axis": {"values": [20,24,28,32,36,40,44,48,52,56,60,64,68,72,76,80], "format": "d", "title": "age"}},
   "y": {"field": "y", "type": "quantitative", "scale": {"domain": [4.557, 6.25], "nice": false, "zero": false}, "axis": {"values": [4.6,4.8,5,5.2,5.4,5.6,5.8,6,6.2], "format": "~g", "labelPadding": 5}},
   "detail": {"field": "c", "type": "nominal"}},
  "layer": [
   {"mark": {"type": "line", "color": "#111", "strokeWidth": 1.4}, "encoding": {}},
   {"mark": {"type": "point", "filled": true, "color": "#111", "size": 26, "opacity": 1}, "encoding": {}}
  ]},
 {"width": 498, "height": 332, "data": {"name": "b"},
  "title": {"text": ["(b) logarithm of food per equivalent adult", "using the Interview sample"], "dx": -11},
  "encoding": {
   "x": {"field": "x", "type": "quantitative", "scale": {"domain": [19.0, 81.2], "nice": false, "zero": false}, "axis": {"values": [20,24,28,32,36,40,44,48,52,56,60,64,68,72,76,80], "format": "d", "title": "age"}},
   "y": {"field": "y", "type": "quantitative", "scale": {"domain": [3.964, 5.4415], "nice": false, "zero": false}, "axis": {"values": [4,4.2,4.4,4.6,4.8,5,5.2,5.4], "format": "~g", "labelPadding": 8}},
   "detail": {"field": "c", "type": "nominal"}},
  "layer": [
   {"mark": {"type": "line", "color": "#111", "strokeWidth": 1.4}, "encoding": {}},
   {"mark": {"type": "point", "filled": true, "color": "#111", "size": 26, "opacity": 1}, "encoding": {}}
  ]}
], "spacing": 69},
{"hconcat": [
 {"width": 484, "height": 332, "data": {"name": "c"},
  "title": {"text": ["(c) logarithm of food using the Diary", "sample"], "dx": -12},
  "encoding": {
   "x": {"field": "x", "type": "quantitative", "scale": {"domain": [18.54, 81.07], "nice": false, "zero": false}, "axis": {"values": [20,24,28,32,36,40,44,48,52,56,60,64,68,72,76,80], "format": "d", "title": "age"}},
   "y": {"field": "y", "type": "quantitative", "scale": {"domain": [4.366, 6.046], "nice": false, "zero": false}, "axis": {"values": [4.4,4.6,4.8,5,5.2,5.4,5.6,5.8,6], "format": "~g", "labelPadding": 15}},
   "detail": {"field": "c", "type": "nominal"}},
  "layer": [
   {"mark": {"type": "line", "color": "#111", "strokeWidth": 1.4}, "encoding": {}},
   {"mark": {"type": "point", "filled": true, "color": "#111", "size": 26, "opacity": 1}, "encoding": {}}
  ]},
 {"width": 470, "height": 332, "data": {"name": "d"},
  "title": {"text": ["(d) logarithm of food per equivalent adult", "using the Diary sample"], "dx": -10},
  "encoding": {
   "x": {"field": "x", "type": "quantitative", "scale": {"domain": [18.9, 81.07], "nice": false, "zero": false}, "axis": {"values": [20,24,28,32,36,40,44,48,52,56,60,64,68,72,76,80], "format": "d", "title": "age"}},
   "y": {"field": "y", "type": "quantitative", "scale": {"domain": [3.753, 5.4905], "nice": false, "zero": false}, "axis": {"values": [3.8,4,4.2,4.4,4.6,4.8,5,5.2,5.4], "format": "~g", "labelPadding": 6}},
   "detail": {"field": "c", "type": "nominal"}},
  "layer": [
   {"mark": {"type": "line", "color": "#111", "strokeWidth": 1.4}, "encoding": {}},
   {"mark": {"type": "point", "filled": true, "color": "#111", "size": 26, "opacity": 1}, "encoding": {}}
  ]}
], "spacing": 99}
]
}
